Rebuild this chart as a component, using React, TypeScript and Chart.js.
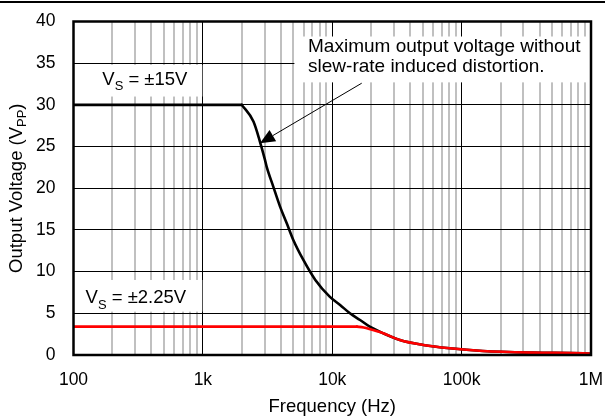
import React, { useEffect, useRef } from 'react';
import { Chart, registerables } from 'chart.js';

Chart.register(...registerables);

// ---- data ----
const freqVs15 = [100, 1000, 2000, 2460, 2760, 3020, 3110, 3500, 3950, 4450, 5000, 5980, 7400, 9550, 11500, 13700, 16400, 19500, 24800, 33300, 50500, 81000, 146000, 356000, 870000, 1000000];
const voltVs15 = [30, 30, 30, 28, 25.6, 23.4, 22.6, 20.2, 17.8, 15.8, 13.8, 11.4, 9.0, 7.0, 6.0, 5.0, 4.2, 3.4, 2.6, 1.8, 1.2, 0.8, 0.48, 0.28, 0.2, 0.15];
const kneeVs15 = 2000; // end of the flat region

const freqVs225 = [100, 1000, 10000, 15500, 17500, 20000, 24800, 33300, 50500, 81000, 146000, 356000, 870000, 1000000];
const voltVs225 = [3.4, 3.4, 3.4, 3.4, 3.3, 3.05, 2.6, 1.8, 1.2, 0.8, 0.48, 0.28, 0.2, 0.15];
const kneeVs225 = 15500;

const xDecadeValues = [100, 1000, 10000, 100000, 1000000];
const xDecadeLabels = ['100', '1k', '10k', '100k', '1M'];
const xMinorMultipliers = [2, 3, 4, 5, 6, 7, 8, 9];

const yMin = 0;
const yMax = 40;
const yStep = 5;

const xTitle = 'Frequency (Hz)';
const yTitleSegments = [
  { t: 'Output Voltage (V', sub: false },
  { t: 'PP', sub: true },
  { t: ')', sub: false },
];
const label15 = [
  { t: 'V', sub: false },
  { t: 'S', sub: true },
  { t: ' = \u00B115V', sub: false },
];
const label225 = [
  { t: 'V', sub: false },
  { t: 'S', sub: true },
  { t: ' = \u00B12.25V', sub: false },
];
const noteLines = ['Maximum output voltage without', 'slew-rate induced distortion.'];

const FONT = '"Liberation Sans", Arial, Helvetica, sans-serif';
const TICK_SIZE = 17.5;

type Seg = { t: string; sub: boolean };

function segWidth(ctx: CanvasRenderingContext2D, segs: Seg[], size: number) {
  let w = 0;
  for (const s of segs) {
    ctx.font = `${s.sub ? size * 0.7 : size}px ${FONT}`;
    w += ctx.measureText(s.t).width;
  }
  return w;
}

function drawSegs(ctx: CanvasRenderingContext2D, segs: Seg[], x: number, y: number, size: number) {
  let cx = x;
  for (const s of segs) {
    const fs = s.sub ? size * 0.7 : size;
    ctx.font = `${fs}px ${FONT}`;
    ctx.fillText(s.t, cx, s.sub ? y + size * 0.3 : y);
    cx += ctx.measureText(s.t).width;
  }
}

const decorPlugin = {
  id: 'decor',
  beforeDatasetsDraw(chart: any) {
    const { ctx, scales } = chart;
    const xs = scales.x;
    const ys = scales.y;
    ctx.save();
    ctx.fillStyle = '#fff';
    const l = chart.chartArea.left;
    const r = chart.chartArea.right;
    ctx.fillRect(l, ys.getPixelForValue(34.8), xs.getPixelForValue(990) - l, ys.getPixelForValue(31.0) - ys.getPixelForValue(34.8));
    ctx.fillRect(l, ys.getPixelForValue(9.0), xs.getPixelForValue(990) - l, ys.getPixelForValue(5.2) - ys.getPixelForValue(9.0));
    const nx = xs.getPixelForValue(5100);
    ctx.fillRect(nx, ys.getPixelForValue(38.2), r - nx, ys.getPixelForValue(32.7) - ys.getPixelForValue(38.2));

    ctx.fillStyle = '#000';
    ctx.textAlign = 'left';
    ctx.textBaseline = 'alphabetic';
    drawSegs(ctx, label15, xs.getPixelForValue(167), ys.getPixelForValue(32.4), 18.5);
    drawSegs(ctx, label225, xs.getPixelForValue(124), ys.getPixelForValue(6.2), 18.5);
    ctx.font = `19px ${FONT}`;
    const tx = xs.getPixelForValue(6500);
    ctx.fillText(noteLines[0], tx, ys.getPixelForValue(36.3));
    ctx.fillText(noteLines[1], tx, ys.getPixelForValue(33.9));
    ctx.restore();
  },
  afterDatasetsDraw(chart: any) {
    const { ctx, scales, chartArea } = chart;
    const xs = scales.x;
    const ys = scales.y;
    ctx.save();
    const x0 = xs.getPixelForValue(16900);
    const y0 = ys.getPixelForValue(32.6);
    const x1 = xs.getPixelForValue(2760);
    const y1 = ys.getPixelForValue(25.4);
    const ang = Math.atan2(y1 - y0, x1 - x0);
    const headLen = 15;
    const headW = 6.5;
    const bx = x1 - headLen * Math.cos(ang);
    const by = y1 - headLen * Math.sin(ang);
    ctx.strokeStyle = '#000';
    ctx.lineWidth = 1;
    ctx.beginPath();
    ctx.moveTo(x0, y0);
    ctx.lineTo(bx, by);
    ctx.stroke();
    ctx.fillStyle = '#000';
    ctx.beginPath();
    ctx.moveTo(x1, y1);
    ctx.lineTo(bx + headW * Math.sin(ang), by - headW * Math.cos(ang));
    ctx.lineTo(bx - headW * Math.sin(ang), by + headW * Math.cos(ang));
    ctx.closePath();
    ctx.fill();

    ctx.lineWidth = 2.5;
    ctx.strokeRect(chartArea.left, chartArea.top, chartArea.right - chartArea.left, chartArea.bottom - chartArea.top);
    ctx.restore();
  },
  afterDraw(chart: any) {
    const { ctx, chartArea, scales } = chart;
    const xs = scales.x;
    const ys = scales.y;
    ctx.save();
    ctx.fillStyle = '#000';
    ctx.fillRect(0, 1, chart.width, 2);

    ctx.font = `${TICK_SIZE}px ${FONT}`;
    ctx.textBaseline = 'middle';
    ctx.textAlign = 'center';
    xs.ticks.forEach((t: any) => {
      const i = xDecadeValues.indexOf(t.value);
      if (i >= 0) ctx.fillText(xDecadeLabels[i], xs.getPixelForValue(t.value), chartArea.bottom + 25.5);
    });
    ctx.textAlign = 'right';
    ys.ticks.forEach((t: any) => {
      ctx.fillText(String(t.value), chartArea.left - 18, ys.getPixelForValue(t.value));
    });

    ctx.textAlign = 'center';
    ctx.font = `18.5px ${FONT}`;
    ctx.fillText(xTitle, (chartArea.left + chartArea.right) / 2, 407);
    ctx.textAlign = 'left';
    const w = segWidth(ctx, yTitleSegments, 18.5);
    ctx.translate(17, (chartArea.top + chartArea.bottom) / 2);
    ctx.rotate(-Math.PI / 2);
    drawSegs(ctx, yTitleSegments, -w / 2, 0, 18.5);
    ctx.restore();
  },
};

function part(freqs: number[], volts: number[], from: number, to: number) {
  return freqs.map((f, i) => ({ x: f, y: volts[i] })).filter((p) => p.x >= from && p.x <= to);
}

export default function App() {
  const ref = useRef<HTMLCanvasElement | null>(null);
  useEffect(() => {
    if (!ref.current) return;
    const xTickValues: number[] = [];
    xDecadeValues.forEach((d, i) => {
      xTickValues.push(d);
      if (i < xDecadeValues.length - 1) xMinorMultipliers.forEach((m) => xTickValues.push(d * m));
    });
    const isDecade = (v: number) => xDecadeValues.includes(v);
    const common = { pointRadius: 0, borderWidth: 2.6, borderCapStyle: 'round', borderJoinStyle: 'round' };
    const chart = new Chart(ref.current, {
      type: 'line',
      data: {
        datasets: [
          { ...common, label: 'Vs = ±2.25V', data: part(freqVs225, voltVs225, 0, kneeVs225), borderColor: '#ff0000', tension: 0, order: 0 },
          { ...common, label: 'Vs = ±2.25V', data: part(freqVs225, voltVs225, kneeVs225, Infinity), borderColor: '#ff0000', cubicInterpolationMode: 'monotone', order: 0 },
          { ...common, label: 'Vs = ±15V', data: part(freqVs15, voltVs15, 0, kneeVs15), borderColor: '#000000', tension: 0, order: 1 },
          { ...common, label: 'Vs = ±15V', data: part(freqVs15, voltVs15, kneeVs15, Infinity), borderColor: '#000000', cubicInterpolationMode: 'monotone', order: 1 },
        ],
      },
      options: {
        animation: false,
        responsive: false,
        maintainAspectRatio: false,
        devicePixelRatio: 1,
        layout: { padding: { top: 21.5, right: 14, left: 0, bottom: 0 } },
        plugins: { legend: { display: false }, tooltip: { enabled: false } },
        scales: {
          x: {
            type: 'logarithmic',
            min: 100,
            max: 1000000,
            afterBuildTicks: (s: any) => {
              s.ticks = xTickValues.map((v) => ({ value: v, major: isDecade(v) }));
            },
            afterFit: (s: any) => {
              s.height = 63;
            },
            ticks: { display: false, autoSkip: false },
            grid: {
              drawTicks: false,
              color: (c: any) => (c.tick && isDecade(c.tick.value) ? '#000000' : '#c0c0c0'),
              lineWidth: (c: any) => (c.tick && isDecade(c.tick.value) ? 1 : 2),
            },
            border: { display: false },
          },
          y: {
            min: yMin,
            max: yMax,
            afterFit: (s: any) => {
              s.width = 73.5;
            },
            ticks: { display: false, stepSize: yStep },
            grid: { drawTicks: false, color: '#000000', lineWidth: 1 },
            border: { display: false },
          },
        },
      },
      plugins: [decorPlugin],
    } as any);
    return () => chart.destroy();
  }, []);
  return (
    <div style={{ position: 'fixed', left: 0, top: 0, width: 605, height: 418, background: '#fff' }}>
      <canvas ref={ref} width={605} height={418} style={{ width: 605, height: 418, display: 'block' }} />
    </div>
  );
}
